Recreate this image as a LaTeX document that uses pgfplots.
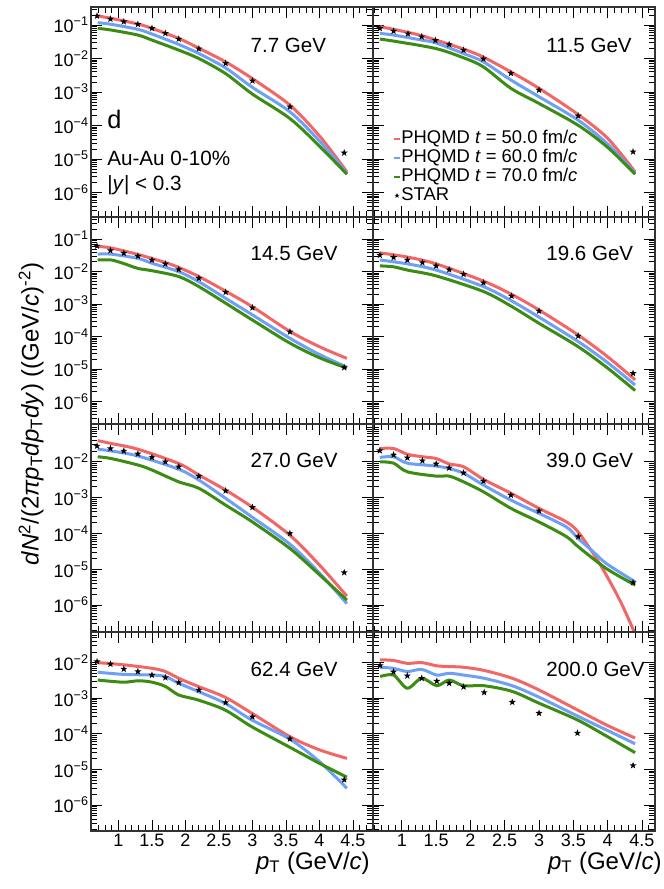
\documentclass[border=0pt]{standalone}
\usepackage{fontspec}
\setmainfont{Liberation Sans}
\usepackage{pgfplots}
\pgfplotsset{compat=1.18}

\definecolor{cred}{RGB}{242,102,102}
\definecolor{cblue}{RGB}{110,160,245}
\definecolor{cgreen}{RGB}{60,140,20}

% filled five-point star
\pgfdeclareplotmark{fstar}{%
  \pgfpathmoveto{\pgfpointpolar{90}{\pgfplotmarksize}}%
  \pgfpathlineto{\pgfpointpolar{126}{0.4\pgfplotmarksize}}%
  \pgfpathlineto{\pgfpointpolar{162}{\pgfplotmarksize}}%
  \pgfpathlineto{\pgfpointpolar{198}{0.4\pgfplotmarksize}}%
  \pgfpathlineto{\pgfpointpolar{234}{\pgfplotmarksize}}%
  \pgfpathlineto{\pgfpointpolar{270}{0.4\pgfplotmarksize}}%
  \pgfpathlineto{\pgfpointpolar{306}{\pgfplotmarksize}}%
  \pgfpathlineto{\pgfpointpolar{342}{0.4\pgfplotmarksize}}%
  \pgfpathlineto{\pgfpointpolar{18}{\pgfplotmarksize}}%
  \pgfpathlineto{\pgfpointpolar{54}{0.4\pgfplotmarksize}}%
  \pgfpathclose\pgfusepathqfill}

\pgfplotsset{
  every axis/.append style={
    scale only axis, width=211.5pt, anchor=north west,
    xtick={1,1.5,2,2.5,3,3.5,4,4.5},
    minor xtick={0.6,0.7,...,4.8},
    minor ytick={2e-7,3e-7,4e-7,5e-7,6e-7,7e-7,8e-7,9e-7,
                 2e-6,3e-6,4e-6,5e-6,6e-6,7e-6,8e-6,9e-6,
                 2e-5,3e-5,4e-5,5e-5,6e-5,7e-5,8e-5,9e-5,
                 2e-4,3e-4,4e-4,5e-4,6e-4,7e-4,8e-4,9e-4,
                 2e-3,3e-3,4e-3,5e-3,6e-3,7e-3,8e-3,9e-3,
                 0.02,0.03,0.04,0.05,0.06,0.07,0.08,0.09,
                 0.2,0.3,0.4},
    tick align=inside,
    major tick length=8pt, minor tick length=4.5pt,
    tick style={black, line width=0.6pt},
    axis line style={line width=0.9pt, black!80},
    tick label style={font=\fontsize{13.5pt}{14pt}\selectfont},
    yticklabel style={inner xsep=1.5pt},
    xticklabel style={inner ysep=2pt},
  },
  redline/.style={cred, line width=2.25pt, smooth, mark=none},
  blueline/.style={cblue, line width=2.25pt, smooth, mark=none},
  greenline/.style={cgreen, line width=2.25pt, smooth, mark=none},
  stardata/.style={only marks, mark=fstar, mark size=2.8pt, black},
}

\begin{document}
\begin{tikzpicture}
\useasboundingbox (0pt,0pt) rectangle (498pt,-666.75pt);

% ---- row 1 ----
\begin{axis}[ymode=log, at={(68.25pt,-5.25pt)},
  xmin=0.59, xmax=4.80, height=157.5pt, ymin=1.88e-7, ymax=0.344,
  ytick={1e-6,1e-5,1e-4,1e-3,1e-2,1e-1},
  yticklabels={10\textsuperscript{−6},10\textsuperscript{−5},10\textsuperscript{−4},10\textsuperscript{−3},10\textsuperscript{−2},10\textsuperscript{−1}},
  xticklabels={}]
\addplot[redline] coordinates {(0.69,0.186)(0.89,0.158)(1.29,0.107)(1.50,0.0794)(1.90,0.0398)(2.20,0.0204)(2.60,0.00794)(3.00,0.00251)(3.56,4.07e-4)(4.01,4.68e-5)(4.41,4.17e-6)};
\addplot[blueline] coordinates {(0.69,0.117)(0.89,0.105)(1.29,0.0741)(1.50,0.0537)(1.90,0.0263)(2.20,0.0141)(2.60,0.00525)(3.00,0.00138)(3.56,2.57e-4)(4.01,3.31e-5)(4.41,3.8e-6)};
\addplot[greenline] coordinates {(0.69,0.0794)(0.89,0.0708)(1.29,0.0501)(1.50,0.0355)(1.90,0.0178)(2.20,0.01)(2.60,0.00355)(3.00,8.7e-4)(3.56,1.62e-4)(4.01,2.34e-5)(4.41,3.55e-6)};
\addplot[stardata] coordinates {(0.68,0.186)(0.88,0.151)(1.08,0.126)(1.29,0.105)(1.50,0.0796)(1.70,0.0565)(1.90,0.0382)(2.20,0.0196)(2.60,0.0072)(3.00,0.00217)(3.56,3.64e-4)(4.37,1.54e-5)};
\end{axis}

\begin{axis}[ymode=log, at={(279.75pt,-5.25pt)},
  xmin=0.58, xmax=4.69, height=157.5pt, ymin=1.88e-7, ymax=0.344,
  ytick={1e-6,1e-5,1e-4,1e-3,1e-2,1e-1}, yticklabels={}, xticklabels={},
  legend style={at={(0.071,0.419)}, anchor=north west, draw=none, fill=none,
    inner sep=0pt, font=\fontsize{13.8pt}{14pt}\selectfont,
    nodes={inner sep=0.5pt, text height=10pt, text depth=3pt}, row sep=0.25pt},
  legend cell align=left]
\addplot[redline, legend image code/.code={\draw[cred, line width=1.6pt] (0pt,0pt) -- (4pt,0pt);}] coordinates {(0.68,0.0891)(0.88,0.0741)(1.29,0.0479)(1.90,0.0191)(2.19,0.011)(2.59,0.00398)(3.00,0.00129)(3.57,2.14e-4)(4.00,4.17e-5)(4.40,4.17e-6)};
\addlegendentry{PHQMD \textit{t} = 50.0 fm/\textit{c}}
\addplot[blueline, legend image code/.code={\draw[cblue, line width=1.6pt] (0pt,0pt) -- (4pt,0pt);}] coordinates {(0.68,0.0562)(0.88,0.0501)(1.29,0.0355)(1.49,0.0295)(1.90,0.0141)(2.19,0.00794)(2.59,0.00229)(3.00,7.24e-4)(3.57,1.45e-4)(4.00,2.82e-5)(4.40,3.8e-6)};
\addlegendentry{PHQMD \textit{t} = 60.0 fm/\textit{c}}
\addplot[greenline, legend image code/.code={\draw[cgreen, line width=1.6pt] (0pt,0pt) -- (4pt,0pt);}] coordinates {(0.68,0.038)(0.88,0.0331)(1.49,0.02)(1.90,0.0105)(2.19,0.00562)(2.59,0.00129)(3.00,4.57e-4)(3.57,1.02e-4)(4.00,2.24e-5)(4.40,3.55e-6)};
\addlegendentry{PHQMD \textit{t} = 70.0 fm/\textit{c}}
\addplot[stardata, legend image code/.code={\draw[only marks, mark=fstar, mark size=2pt, black] plot coordinates {(2pt,0pt)};}] coordinates {(0.68,0.0794)(0.88,0.0661)(1.09,0.055)(1.29,0.0447)(1.49,0.0347)(1.69,0.0263)(1.90,0.0178)(2.19,0.00977)(2.59,0.00363)(3.00,0.00115)(3.57,1.95e-4)(4.37,1.66e-5)};
\addlegendentry{STAR}
\end{axis}

% ---- row 2 ----
\begin{axis}[ymode=log, at={(68.25pt,-162.75pt)},
  xmin=0.59, xmax=4.80, height=155.25pt, ymin=2.04e-7, ymax=0.482,
  ytick={1e-6,1e-5,1e-4,1e-3,1e-2,1e-1},
  yticklabels={10\textsuperscript{−6},10\textsuperscript{−5},10\textsuperscript{−4},10\textsuperscript{−3},10\textsuperscript{−2},10\textsuperscript{−1}},
  xticklabels={}]
\addplot[redline] coordinates {(0.69,0.0603)(0.89,0.0537)(1.29,0.0339)(1.70,0.0191)(1.90,0.0135)(2.20,0.00708)(2.60,0.00251)(3.00,8.3e-4)(3.56,1.45e-4)(4.00,4.9e-5)(4.41,2.14e-5)};
\addplot[blueline] coordinates {(0.69,0.0347)(0.89,0.0347)(1.29,0.0257)(1.50,0.0182)(1.90,0.01)(2.20,0.0049)(2.60,0.00151)(3.00,4.68e-4)(3.56,8.9e-5)(4.00,2.82e-5)(4.41,1.15e-5)};
\addplot[greenline] coordinates {(0.69,0.0229)(0.89,0.0229)(1.08,0.0178)(1.29,0.0126)(1.50,0.0107)(1.90,0.00708)(2.20,0.00347)(2.60,0.00107)(3.00,3.24e-4)(3.56,6.3e-5)(4.00,2.24e-5)(4.41,1.07e-5)};
\addplot[stardata] coordinates {(0.68,0.0617)(0.88,0.0447)(1.08,0.0372)(1.29,0.0302)(1.50,0.0229)(1.70,0.0174)(1.90,0.0117)(2.20,0.0063)(2.60,0.00234)(3.00,7.76e-4)(3.56,1.41e-4)(4.37,1.12e-5)};
\end{axis}

\begin{axis}[ymode=log, at={(279.75pt,-162.75pt)},
  xmin=0.58, xmax=4.69, height=155.25pt, ymin=2.04e-7, ymax=0.482,
  ytick={1e-6,1e-5,1e-4,1e-3,1e-2,1e-1}, yticklabels={}, xticklabels={}]
\addplot[redline] coordinates {(0.68,0.038)(1.08,0.0282)(1.50,0.0174)(2.19,0.00513)(2.60,0.002)(3.00,6.6e-4)(3.57,1.12e-4)(4.00,2.4e-5)(4.40,4.68e-6)};
\addplot[blueline] coordinates {(0.68,0.0229)(1.08,0.0174)(1.50,0.0112)(2.19,0.00347)(2.60,0.00126)(3.00,3.98e-4)(3.57,7.08e-5)(4.00,1.58e-5)(4.40,3.24e-6)};
\addplot[greenline] coordinates {(0.68,0.0151)(0.88,0.0141)(1.08,0.0112)(1.50,0.00741)(2.19,0.00245)(2.60,8.5e-4)(3.00,2.57e-4)(3.57,4.9e-5)(4.00,1.07e-5)(4.40,2.19e-6)};
\addplot[stardata] coordinates {(0.68,0.0324)(0.88,0.0275)(1.08,0.0229)(1.30,0.0191)(1.50,0.0151)(1.69,0.0115)(1.90,0.00832)(2.19,0.00457)(2.60,0.00178)(3.00,6.17e-4)(3.57,1.05e-4)(4.37,7.41e-6)};
\end{axis}

% ---- row 3 ----
\begin{axis}[ymode=log, at={(68.25pt,-318pt)},
  xmin=0.59, xmax=4.80, height=156pt, ymin=1.78e-7, ymax=0.113,
  ytick={1e-6,1e-5,1e-4,1e-3,1e-2},
  yticklabels={10\textsuperscript{−6},10\textsuperscript{−5},10\textsuperscript{−4},10\textsuperscript{−3},10\textsuperscript{−2}},
  xticklabels={}]
\addplot[redline] coordinates {(0.69,0.0389)(0.89,0.0324)(1.29,0.0224)(1.90,0.00891)(2.20,0.00427)(2.60,0.00162)(3.00,5.37e-4)(3.56,8.9e-5)(4.00,1.32e-5)(4.41,1.78e-6)};
\addplot[blueline] coordinates {(0.69,0.0224)(0.89,0.02)(1.29,0.0145)(1.90,0.00617)(2.20,0.00309)(2.60,9.55e-4)(3.00,2.82e-4)(3.56,5.01e-5)(4.00,7.9e-6)(4.41,1.1e-6)};
\addplot[greenline] coordinates {(0.69,0.0138)(0.89,0.0123)(1.29,0.00813)(1.50,0.00589)(1.90,0.00275)(2.20,0.00182)(2.60,6.17e-4)(3.00,2.09e-4)(3.56,3.8e-5)(4.00,7.08e-6)(4.41,1.38e-6)};
\addplot[stardata] coordinates {(0.68,0.0275)(0.88,0.0234)(1.08,0.02)(1.29,0.0166)(1.50,0.0132)(1.70,0.01)(1.90,0.00724)(2.20,0.00398)(2.60,0.00155)(3.00,5.37e-4)(3.56,1e-4)(4.37,8.13e-6)};
\end{axis}

\begin{axis}[ymode=log, at={(279.75pt,-318pt)},
  xmin=0.58, xmax=4.69, height=156pt, ymin=1.78e-7, ymax=0.113,
  ytick={1e-6,1e-5,1e-4,1e-3,1e-2}, yticklabels={}, xticklabels={}]
\addplot[redline] coordinates {(0.68,0.0234)(0.88,0.0234)(1.08,0.0162)(1.30,0.0138)(1.50,0.0123)(1.69,0.0087)(1.90,0.00724)(2.19,0.00324)(2.59,0.00132)(3.00,5.01e-4)(3.40,2.09e-4)(3.57,1.1e-4)(3.79,2.75e-5)(3.98,6.9e-6)(4.20,1.12e-6)(4.40,1.58e-7)};
\addplot[blueline] coordinates {(0.68,0.0132)(0.88,0.0138)(1.08,0.00912)(1.50,0.00759)(1.69,0.00646)(1.90,0.00479)(2.19,0.00224)(2.59,8.5e-4)(3.00,3.63e-4)(3.40,1.51e-4)(3.57,7.24e-5)(3.79,3.09e-5)(3.98,1.45e-5)(4.40,4.47e-6)};
\addplot[greenline] coordinates {(0.68,0.01)(0.88,0.00912)(1.08,0.00525)(1.50,0.00398)(1.69,0.00398)(1.90,0.00275)(2.19,0.00145)(2.59,5.01e-4)(3.00,2.09e-4)(3.40,8.13e-5)(3.57,4.27e-5)(3.98,1.05e-5)(4.40,3.63e-6)};
\addplot[stardata] coordinates {(0.68,0.0204)(0.88,0.0155)(1.08,0.0129)(1.30,0.0107)(1.50,0.00871)(1.69,0.00676)(1.90,0.0049)(2.19,0.00288)(2.59,0.00117)(3.00,4.27e-4)(3.57,8.13e-5)(4.37,4.27e-6)};
\end{axis}

% ---- row 4 ----
\begin{axis}[ymode=log, at={(68.25pt,-474pt)},
  xmin=0.59, xmax=4.80, height=149.25pt, ymin=1.86e-7, ymax=0.0724,
  ytick={1e-6,1e-5,1e-4,1e-3,1e-2},
  yticklabels={10\textsuperscript{−6},10\textsuperscript{−5},10\textsuperscript{−4},10\textsuperscript{−3},10\textsuperscript{−2}},
  xticklabels={1,1.5,2,2.5,3,3.5,4,4.5}]
\addplot[redline] coordinates {(0.69,0.01)(1.07,0.00871)(1.50,0.00692)(1.70,0.00562)(1.90,0.00363)(2.19,0.00214)(2.59,0.00107)(2.99,3.8e-4)(3.56,8.3e-5)(4.00,3.55e-5)(4.41,2.04e-5)};
\addplot[blueline] coordinates {(0.69,0.00537)(1.07,0.00468)(1.50,0.00447)(1.70,0.00407)(1.90,0.00263)(2.19,0.00155)(2.59,7.24e-4)(2.99,2.45e-4)(3.56,7.08e-5)(4.00,1.66e-5)(4.41,2.95e-6)};
\addplot[greenline] coordinates {(0.69,0.00324)(1.07,0.00282)(1.30,0.00309)(1.50,0.00282)(1.70,0.00214)(1.90,0.00123)(2.19,8.9e-4)(2.59,4.68e-4)(2.99,1.58e-4)(3.56,4.17e-5)(4.00,1.48e-5)(4.41,6.03e-6)};
\addplot[stardata] coordinates {(0.68,0.0107)(0.88,0.00912)(1.08,0.00661)(1.29,0.00562)(1.50,0.00447)(1.70,0.0038)(1.90,0.00275)(2.20,0.0017)(2.60,7.59e-4)(3.00,3.02e-4)(3.56,7.24e-5)(4.37,5.13e-6)};
\end{axis}

\begin{axis}[ymode=log, at={(279.75pt,-474pt)},
  xmin=0.58, xmax=4.69, height=149.25pt, ymin=1.86e-7, ymax=0.0724,
  ytick={1e-6,1e-5,1e-4,1e-3,1e-2}, yticklabels={},
  xticklabels={1,1.5,2,2.5,3,3.5,4,4.5}]
\addplot[redline] coordinates {(0.684,0.012)(0.878,0.0115)(1.08,0.00955)(1.29,0.01)(1.51,0.00813)(1.69,0.00776)(1.90,0.00741)(2.20,0.00603)(2.61,0.00363)(3.00,0.0017)(3.56,4.68e-4)(3.98,1.78e-4)(4.40,7.59e-5)};
\addplot[blueline] coordinates {(0.684,0.00741)(0.878,0.00692)(1.08,0.00562)(1.29,0.00646)(1.51,0.00447)(1.69,0.00501)(1.90,0.00447)(2.20,0.00363)(2.61,0.00224)(3.00,0.00107)(3.56,3.16e-4)(3.98,1.29e-4)(4.40,5.25e-5)};
\addplot[greenline] coordinates {(0.684,0.00407)(0.878,0.00447)(1.08,0.00191)(1.29,0.00363)(1.51,0.00224)(1.69,0.00324)(1.90,0.00224)(2.20,0.00224)(2.61,0.00155)(3.00,7.24e-4)(3.56,2.45e-4)(3.98,8.7e-5)(4.40,2.95e-5)};
\addplot[stardata] coordinates {(0.684,0.00832)(0.878,0.0055)(1.08,0.00427)(1.29,0.00363)(1.51,0.00302)(1.69,0.00263)(1.90,0.00209)(2.20,0.00145)(2.61,7.76e-4)(3.00,3.8e-4)(3.56,1.05e-4)(4.37,1.29e-5)};
\end{axis}

% ---- panel texts ----
\node[anchor=base west, font=\fontsize{15.4pt}{16pt}\selectfont] at (184.5pt,-39pt) {7.7 GeV};
\node[anchor=base west, font=\fontsize{15.4pt}{16pt}\selectfont] at (406.3pt,-39pt) {11.5 GeV};
\node[anchor=base west, font=\fontsize{15.4pt}{16pt}\selectfont] at (184.5pt,-195.5pt) {14.5 GeV};
\node[anchor=base west, font=\fontsize{15.4pt}{16pt}\selectfont] at (406.3pt,-195.5pt) {19.6 GeV};
\node[anchor=base west, font=\fontsize{15.4pt}{16pt}\selectfont] at (184.5pt,-350.8pt) {27.0 GeV};
\node[anchor=base west, font=\fontsize{15.4pt}{16pt}\selectfont] at (406.3pt,-350.8pt) {39.0 GeV};
\node[anchor=base west, font=\fontsize{15.4pt}{16pt}\selectfont] at (184.5pt,-507.5pt) {62.4 GeV};
\node[anchor=base west, font=\fontsize{15.4pt}{16pt}\selectfont] at (406.3pt,-507.5pt) {200.0 GeV};

\node[anchor=base west, inner sep=0pt, font=\fontsize{19pt}{20pt}\selectfont] at (80.25pt,-96.2pt) {d};
\node[anchor=base west, inner sep=0pt, font=\fontsize{15.5pt}{16pt}\selectfont] at (80.25pt,-124.3pt) {Au-Au 0-10\%};
\node[anchor=base west, inner sep=0pt, font=\fontsize{15.5pt}{16pt}\selectfont] at (80.25pt,-142.5pt) {|\textit{y}| {\textless} 0.3};

% ---- axis titles ----
\node[anchor=base east, inner sep=0pt, font=\fontsize{18pt}{19pt}\selectfont] at (277.5pt,-651.75pt) {\textit{p}\textsubscript{T} (GeV/\textit{c})};
\node[anchor=base east, inner sep=0pt, font=\fontsize{18pt}{19pt}\selectfont] at (496.5pt,-651.75pt) {\textit{p}\textsubscript{T} (GeV/\textit{c})};
\node[anchor=base, rotate=90, inner sep=0pt, font=\fontsize{18pt}{19pt}\selectfont] at (29pt,-310.5pt)
  {\textit{dN}\textsuperscript{2}/(2\textit{πp}\textsubscript{T}\textit{dp}\textsubscript{T}\textit{dy}) ((GeV/\textit{c})\textsuperscript{-2})};
\end{tikzpicture}
\end{document}
